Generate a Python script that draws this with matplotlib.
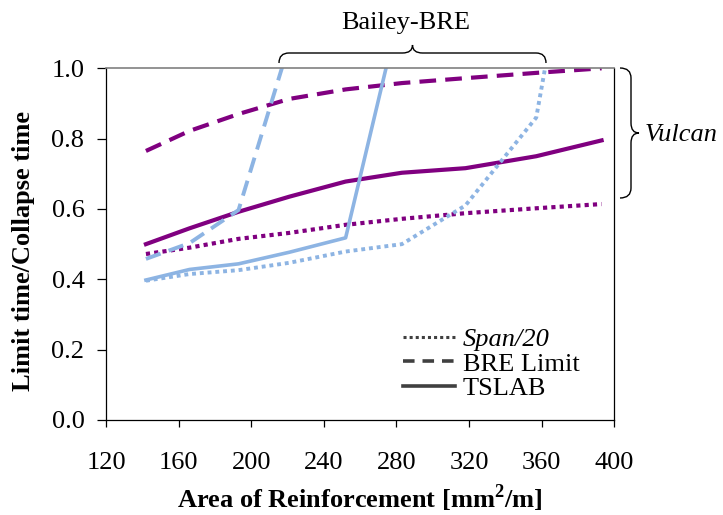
import matplotlib.pyplot as plt
from matplotlib.lines import Line2D
from matplotlib.path import Path
from matplotlib.patches import PathPatch
from matplotlib.transforms import Affine2D

# reinforcement areas [mm2/m]
area = [142, 166, 193, 221, 252, 283, 318, 357, 393]

# Vulcan results
vulcan_span20 = [0.472, 0.490, 0.515, 0.532, 0.555, 0.572, 0.588, 0.602, 0.614]
vulcan_bre = [0.765, 0.822, 0.870, 0.913, 0.940, 0.958, 0.972, 0.987, 1.000]
vulcan_tslab = [0.500, 0.545, 0.592, 0.635, 0.678, 0.703, 0.716, 0.750, 0.795]

# Bailey-BRE results
bailey_span20 = [0.396, 0.415, 0.426, 0.447, 0.479, 0.500, 0.610, 0.860, 1.900]
bailey_bre = [0.458, 0.503, 0.597, 1.070]
bailey_tslab = [0.398, 0.428, 0.444, 0.477, 0.518, 1.190]

legend_labels = ['Span/20', 'BRE Limit', 'TSLAB']

purple = '#800080'
blue = '#8DB4E3'
fs = 19

plt.rcParams['font.family'] = ['Liberation Serif', 'DejaVu Serif']
plt.rcParams['mathtext.fontset'] = 'custom'
plt.rcParams['mathtext.rm'] = 'Liberation Serif'
plt.rcParams['mathtext.bf'] = 'Liberation Serif:bold'

W, H = 723, 515
fig = plt.figure(figsize=(W / 100, H / 100), dpi=100)
ax = fig.add_axes([106 / W, 1 - 420 / H, 508.3 / W, 351.7 / H])

dot = (1, 1)
dash = (4, 2.2)

ax.plot(area, vulcan_span20, color=purple, lw=3, dashes=dot, dash_capstyle='butt')
ax.plot(area, vulcan_bre, color=purple, lw=3, dashes=dash, dash_capstyle='butt')
ax.plot(area, vulcan_tslab, color=purple, lw=3, solid_joinstyle='round')

ax.plot(area[:len(bailey_span20)], bailey_span20, color=blue, lw=2.8, dashes=dot,
        dash_capstyle='butt')
ax.plot(area[:len(bailey_bre)], bailey_bre, color=blue, lw=2.8, dashes=dash,
        dash_capstyle='butt')
ax.plot(area[:len(bailey_tslab)], bailey_tslab, color=blue, lw=2.6)

ax.set_xlim(120, 400)
ax.set_ylim(0, 1)
ax.set_xticks(range(120, 401, 40))
ax.set_yticks([0, 0.2, 0.4, 0.6, 0.8, 1.0])
ax.set_yticklabels(['%.1f' % v for v in ax.get_yticks()])
ax.tick_params(direction='out', length=6.5, width=0.9, labelsize=fs, pad=9)
ax.tick_params(axis='x', length=5, pad=18)
for s in ['left', 'bottom', 'right']:
    ax.spines[s].set_linewidth(0.9)
ax.spines['top'].set_color('#808080')
ax.spines['top'].set_linewidth(1.2)

ax.set_xlabel(r'Area of Reinforcement [mm$^{\mathbf{2}}$/m]', fontsize=fs,
              fontweight='bold', labelpad=6)
ax.set_ylabel('Limit time/Collapse time', fontsize=fs, fontweight='bold')
ax.yaxis.set_label_coords(-0.14, 0.48)

# legend with grey line styles only
gray = '#404040'
handles = [Line2D([], [], color=gray, lw=2.2, dashes=(1, 1), dash_capstyle='butt'),
           Line2D([], [], color=gray, lw=2.6, dashes=(3.2, 2.2), dash_capstyle='butt'),
           Line2D([], [], color=gray, lw=2.6)]
leg = ax.legend(handles, legend_labels, loc='upper left', bbox_to_anchor=(0.585, 0.262),
                frameon=False, fontsize=fs, handlelength=1.95, handletextpad=0.3,
                labelspacing=0.03, borderpad=0, borderaxespad=0)
leg.get_texts()[0].set_style('italic')

# braces drawn in pixel coordinates of the figure
px = Affine2D().scale(1 / W, -1 / H).translate(0, 1) + fig.transFigure


def hbrace(x0, x1, yb, yf, yt, r=10):
    xm = (x0 + x1) / 2
    verts = [(x0, yb), (x0, yf), (x0 + r, yf), (xm - r, yf), (xm, yf), (xm, yt),
             (xm, yf), (xm + r, yf), (x1 - r, yf), (x1, yf), (x1, yb)]
    codes = [Path.MOVETO, Path.CURVE3, Path.CURVE3, Path.LINETO, Path.CURVE3, Path.CURVE3,
             Path.CURVE3, Path.CURVE3, Path.LINETO, Path.CURVE3, Path.CURVE3]
    return Path(verts, codes)


def vbrace(y0, y1, xb, xf, xt, r=10):
    ym = (y0 + y1) / 2
    verts = [(xb, y0), (xf, y0), (xf, y0 + r), (xf, ym - r), (xf, ym), (xt, ym),
             (xf, ym), (xf, ym + r), (xf, y1 - r), (xf, y1), (xb, y1)]
    codes = [Path.MOVETO, Path.CURVE3, Path.CURVE3, Path.LINETO, Path.CURVE3, Path.CURVE3,
             Path.CURVE3, Path.CURVE3, Path.LINETO, Path.CURVE3, Path.CURVE3]
    return Path(verts, codes)


fig.add_artist(PathPatch(hbrace(279, 546, 63, 53, 45), transform=px, fill=False,
                         lw=1.0, color='black'))
fig.add_artist(PathPatch(vbrace(68, 198, 620, 631, 639), transform=px, fill=False,
                         lw=1.0, color='black'))
fig.text(406 / W, 1 - 23 / H, 'Bailey-BRE', fontsize=fs, ha='center', va='center')
fig.text(645 / W, 1 - 141 / H, 'Vulcan', fontsize=fs, style='italic', ha='left',
         va='baseline')

fig.savefig('out.png', dpi=100)
